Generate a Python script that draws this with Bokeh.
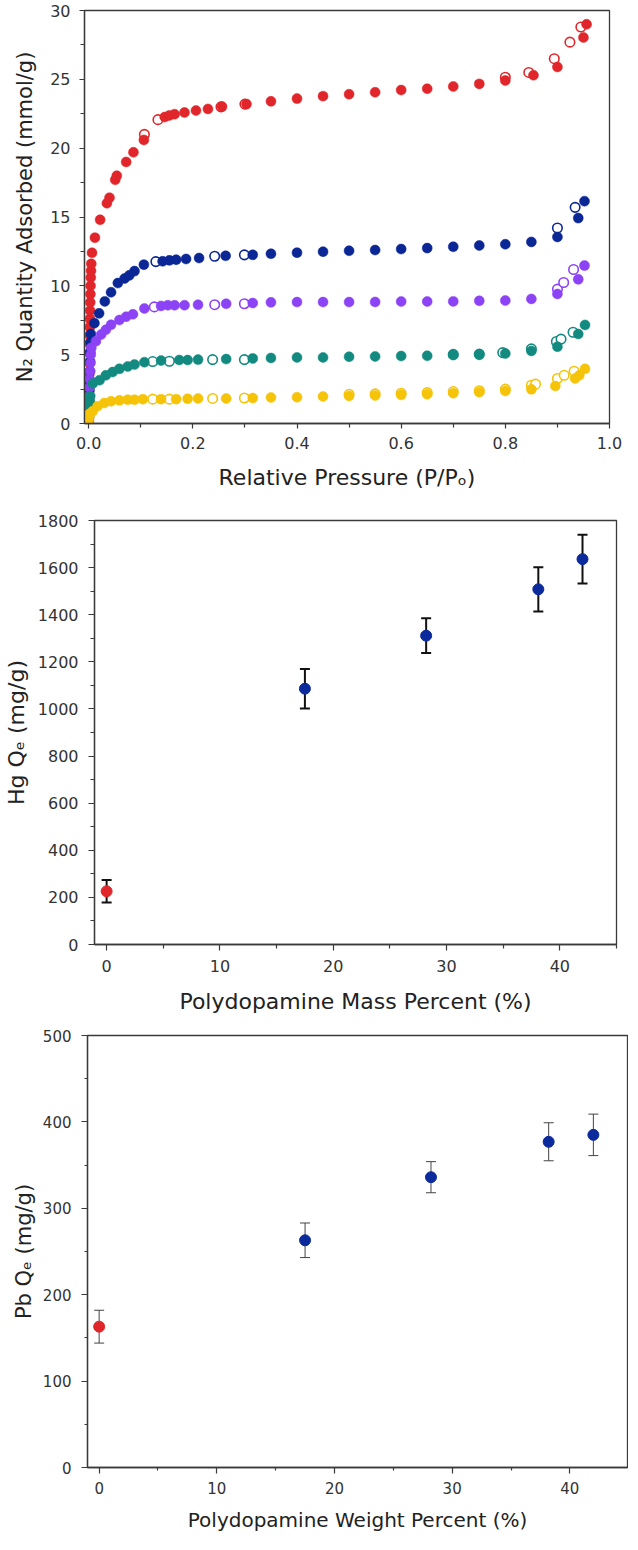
from bokeh.plotting import figure
from bokeh.models import Range1d, FixedTicker, NumeralTickFormatter, ColumnDataSource, Whisker, TeeHead
from bokeh.embed import file_html
from bokeh.resources import INLINE

FONT = "DejaVu Sans"

# ---------------- Panel 1: N2 isotherms ----------------
red_x = [0.0003, 0.0005, 0.0007, 0.0009, 0.0011, 0.0013, 0.0015, 0.0017, 0.0019, 0.0021,
         0.0023, 0.0025, 0.0027, 0.003, 0.0033, 0.0036, 0.004, 0.0045, 0.005,
         0.0064, 0.012, 0.022, 0.035, 0.040, 0.051, 0.054, 0.072, 0.086, 0.106,
         0.146, 0.155, 0.165, 0.184, 0.206, 0.229, 0.256, 0.303, 0.35, 0.40, 0.45,
         0.50, 0.55, 0.60, 0.65, 0.70, 0.75, 0.80, 0.854, 0.90, 0.95, 0.956]
red_y = [0.2, 0.5, 1.2, 2.0, 2.8, 3.6, 4.4, 5.1, 5.8, 6.4,
         7.0, 7.6, 8.2, 8.8, 9.4, 10.0, 10.6, 11.1, 11.6,
         12.4, 13.5, 14.8, 16.0, 16.4, 17.7, 18.0, 19.0, 19.7, 20.6,
         22.26, 22.38, 22.47, 22.59, 22.73, 22.85, 23.02, 23.2, 23.4, 23.6, 23.78,
         23.92, 24.06, 24.22, 24.32, 24.48, 24.67, 24.91, 25.3, 25.9, 28.04, 29.0]
red_ox = [0.107, 0.133, 0.254, 0.30, 0.80, 0.845, 0.894, 0.924, 0.945]
red_oy = [21.0, 22.07, 23.0, 23.2, 25.15, 25.5, 26.5, 27.7, 28.8]

navy_x = [0.0003, 0.0007, 0.0011, 0.0015, 0.0019, 0.0023, 0.0027, 0.0031, 0.0036, 0.0042,
          0.011, 0.020, 0.031, 0.043, 0.056, 0.069, 0.078, 0.088, 0.106,
          0.142, 0.155, 0.168, 0.187, 0.212, 0.263, 0.315, 0.35, 0.40, 0.45,
          0.50, 0.55, 0.60, 0.65, 0.70, 0.75, 0.80, 0.85, 0.90, 0.94, 0.952]
navy_y = [0.4, 1.0, 1.7, 2.4, 3.1, 3.8, 4.5, 5.2, 5.9, 6.5,
          7.29, 8.0, 8.87, 9.53, 10.2, 10.53, 10.76, 11.07, 11.54,
          11.78, 11.85, 11.9, 11.95, 12.02, 12.18, 12.25, 12.33, 12.41, 12.48,
          12.55, 12.6, 12.67, 12.74, 12.84, 12.93, 13.02, 13.19, 13.55, 14.92, 16.15]
navy_ox = [0.129, 0.242, 0.299, 0.90, 0.934]
navy_oy = [11.76, 12.15, 12.25, 14.2, 15.7]

purple_x = [0.0003, 0.0008, 0.0013, 0.0018, 0.0023, 0.0028, 0.0034, 0.004, 0.005,
            0.014, 0.024, 0.033, 0.043, 0.059, 0.072, 0.085, 0.107,
            0.139, 0.152, 0.165, 0.184, 0.21, 0.264, 0.315, 0.35, 0.40, 0.45,
            0.50, 0.55, 0.60, 0.65, 0.70, 0.75, 0.80, 0.85, 0.90, 0.94, 0.952]
purple_y = [0.8, 1.4, 2.0, 2.6, 3.2, 3.8, 4.4, 5.0, 5.5,
            5.98, 6.46, 6.81, 7.17, 7.52, 7.76, 7.93, 8.35,
            8.54, 8.59, 8.59, 8.59, 8.63, 8.7, 8.75, 8.8, 8.82, 8.82,
            8.82, 8.83, 8.86, 8.86, 8.87, 8.91, 8.93, 9.05, 9.41, 10.47, 11.47]
purple_ox = [0.126, 0.242, 0.299, 0.90, 0.912, 0.931]
purple_oy = [8.47, 8.63, 8.7, 9.76, 10.24, 11.19]

teal_x = [0.0003, 0.0009, 0.0015, 0.0021, 0.003,
          0.008, 0.021, 0.033, 0.046, 0.059, 0.075, 0.088, 0.107,
          0.139, 0.174, 0.19, 0.21, 0.264, 0.315, 0.35, 0.40, 0.45,
          0.50, 0.55, 0.60, 0.65, 0.70, 0.75, 0.80, 0.85, 0.90, 0.94, 0.953]
teal_y = [0.5, 0.9, 1.3, 1.6, 2.0,
          2.91, 3.15, 3.5, 3.74, 3.97, 4.14, 4.28, 4.45,
          4.57, 4.61, 4.61, 4.64, 4.68, 4.73, 4.76, 4.8, 4.8,
          4.85, 4.87, 4.9, 4.92, 4.97, 4.99, 5.08, 5.27, 5.58, 6.5, 7.16]
teal_ox = [0.123, 0.155, 0.238, 0.299, 0.70, 0.75, 0.795, 0.85, 0.898, 0.907, 0.93]
teal_oy = [4.5, 4.52, 4.64, 4.64, 5.02, 5.04, 5.15, 5.42, 5.96, 6.13, 6.63]

yellow_x = [0.0003, 0.0009, 0.0016,
            0.008, 0.017, 0.03, 0.043, 0.059, 0.075, 0.088, 0.104,
            0.139, 0.168, 0.19, 0.21, 0.264, 0.315, 0.35, 0.40, 0.45,
            0.50, 0.55, 0.60, 0.65, 0.70, 0.75, 0.80, 0.85, 0.896, 0.934, 0.942, 0.953]
yellow_y = [0.3, 0.5, 0.7,
            0.9, 1.25, 1.49, 1.61, 1.68, 1.73, 1.73, 1.77,
            1.77, 1.77, 1.8, 1.82, 1.82, 1.85, 1.89, 1.91, 1.96,
            2.0, 2.03, 2.08, 2.12, 2.2, 2.27, 2.36, 2.48, 2.72, 3.27, 3.5, 3.97]
yellow_ox = [0.123, 0.155, 0.238, 0.299, 0.50, 0.55, 0.60, 0.65, 0.70, 0.75, 0.80,
             0.85, 0.858, 0.90, 0.913, 0.932]
yellow_oy = [1.77, 1.77, 1.82, 1.85, 2.12, 2.15, 2.2, 2.24, 2.32, 2.38, 2.5,
             2.78, 2.86, 3.27, 3.5, 3.8]

iso_colors = {"red": "#E1262B", "navy": "#0B2796", "purple": "#8C42F5",
              "teal": "#128A80", "yellow": "#F5C308"}

# ---------------- Panel 2: Hg uptake ----------------
hg_pct = [0, 17.5, 28.2, 38.1, 42.0]
hg_qe = [226, 1086, 1311, 1508, 1636]
hg_err = [48, 84, 74, 94, 103]

# ---------------- Panel 3: Pb uptake ----------------
pb_pct = [0, 17.5, 28.2, 38.2, 42.0]
pb_qe = [163, 263, 336, 377, 385]
pb_err = [19, 20, 18, 22, 24]

point_colors = ["#E1262B", "#0B2A9C", "#0B2A9C", "#0B2A9C", "#0B2A9C"]

AX = "#3a3a3a"


def style(p, xticks, xminor, yticks, yminor, tick_size, maj_out, min_out,
          xstand, xlab_stand, ystand, ylab_stand, xfont, yfont):
    p.xgrid.visible = False
    p.ygrid.visible = False
    p.outline_line_color = AX
    p.outline_line_width = 1.3
    p.background_fill_color = "white"
    p.border_fill_color = "white"
    p.xaxis.ticker = FixedTicker(ticks=xticks, minor_ticks=xminor)
    p.yaxis.ticker = FixedTicker(ticks=yticks, minor_ticks=yminor)
    for ax in (p.xaxis, p.yaxis):
        ax.axis_line_color = AX
        ax.axis_line_width = 1.3
        ax.major_tick_line_color = AX
        ax.minor_tick_line_color = AX
        ax.major_tick_line_width = 1.2
        ax.minor_tick_line_width = 1.2
        ax.major_tick_in = 0
        ax.minor_tick_in = 0
        ax.major_tick_out = maj_out
        ax.minor_tick_out = min_out
        ax.major_label_text_font = FONT
        ax.major_label_text_font_size = tick_size
        ax.major_label_text_color = "#333333"
        ax.axis_label_text_font = FONT
        ax.axis_label_text_font_style = "normal"
        ax.axis_label_text_color = "#222222"
    p.xaxis.major_label_standoff = xstand
    p.xaxis.axis_label_standoff = xlab_stand
    p.yaxis.major_label_standoff = ystand
    p.yaxis.axis_label_standoff = ylab_stand
    p.xaxis.axis_label_text_font_size = xfont
    p.yaxis.axis_label_text_font_size = yfont


# Panel 1
p1 = figure(width=628, height=496, output_backend="svg", toolbar_location=None,
            x_range=Range1d(-0.008, 1.0), y_range=Range1d(0, 30),
            min_border_left=84, min_border_right=19, min_border_top=10, min_border_bottom=73)
style(p1, [0, 0.2, 0.4, 0.6, 0.8, 1.0], [0.1, 0.3, 0.5, 0.7, 0.9],
      [0, 5, 10, 15, 20, 25, 30], [2.5, 7.5, 12.5, 17.5, 22.5, 27.5],
      "16px", 5, 4, 8, 13, 9, 10, "22px", "21px")
p1.xaxis.formatter = NumeralTickFormatter(format="0.0")
p1.xaxis.axis_label = "Relative Pressure (P/Pₒ)"
p1.yaxis.axis_label = "N₂ Quantity Adsorbed (mmol/g)"

series = [
    ("red", red_x, red_y, red_ox, red_oy),
    ("navy", navy_x, navy_y, navy_ox, navy_oy),
    ("purple", purple_x, purple_y, purple_ox, purple_oy),
    ("teal", teal_x, teal_y, teal_ox, teal_oy),
    ("yellow", yellow_x, yellow_y, yellow_ox, yellow_oy),
]
for name, fx, fy, ox, oy in series:
    c = iso_colors[name]
    p1.scatter(ox, oy, marker="circle", size=9.5, fill_color="white",
               line_color=c, line_width=1.6)
    p1.scatter(fx, fy, marker="circle", size=10, fill_color=c, line_color=c, line_width=0.5)

# Panel 2
p2 = figure(width=628, height=524, output_backend="svg", toolbar_location=None,
            x_range=Range1d(-1.07, 45.0), y_range=Range1d(0, 1800),
            min_border_left=88, min_border_right=12, min_border_top=24, min_border_bottom=76)
style(p2, [0, 10, 20, 30, 40], [5, 15, 25, 35, 45],
      list(range(0, 1801, 200)), list(range(100, 1800, 200)),
      "16px", 6, 4, 9, 14, 10, 6, "22px", "22px")
p2.xaxis.axis_label = "Polydopamine Mass Percent (%)"
p2.yaxis.axis_label = "Hg Qₑ (mg/g)"
src2 = ColumnDataSource(dict(x=hg_pct, y=hg_qe,
                             lo=[v - e for v, e in zip(hg_qe, hg_err)],
                             hi=[v + e for v, e in zip(hg_qe, hg_err)],
                             c=point_colors))
p2.add_layout(Whisker(source=src2, base="x", upper="hi", lower="lo", dimension="height",
                      line_color="#111111", line_width=2, level="underlay",
                      upper_head=TeeHead(size=10, line_color="#111111", line_width=2),
                      lower_head=TeeHead(size=10, line_color="#111111", line_width=2)))
p2.scatter("x", "y", source=src2, marker="circle", size=11, fill_color="c", line_color="c")

# Panel 3
p3 = figure(width=628, height=514, output_backend="svg", toolbar_location=None,
            x_range=Range1d(-0.99, 44.9), y_range=Range1d(0, 500),
            min_border_left=87, min_border_right=1, min_border_top=15, min_border_bottom=66)
style(p3, [0, 10, 20, 30, 40], [5, 15, 25, 35, 45],
      [0, 100, 200, 300, 400, 500], [50, 150, 250, 350, 450],
      "15px", 6, 3, 8, 11, 10, 4, "20px", "21px")
p3.xaxis.axis_label = "Polydopamine Weight Percent (%)"
p3.yaxis.axis_label = "Pb Qₑ (mg/g)"
src3 = ColumnDataSource(dict(x=pb_pct, y=pb_qe,
                             lo=[v - e for v, e in zip(pb_qe, pb_err)],
                             hi=[v + e for v, e in zip(pb_qe, pb_err)],
                             c=point_colors))
p3.add_layout(Whisker(source=src3, base="x", upper="hi", lower="lo", dimension="height",
                      line_color="#444444", line_width=1, level="underlay",
                      upper_head=TeeHead(size=10, line_color="#444444", line_width=1),
                      lower_head=TeeHead(size=10, line_color="#444444", line_width=1)))
p3.scatter("x", "y", source=src3, marker="circle", size=11, fill_color="c", line_color="c")

# Separate roots so that each panel keeps its own frame position
open("out.html", "w").write(file_html([p1, p2, p3], INLINE))
